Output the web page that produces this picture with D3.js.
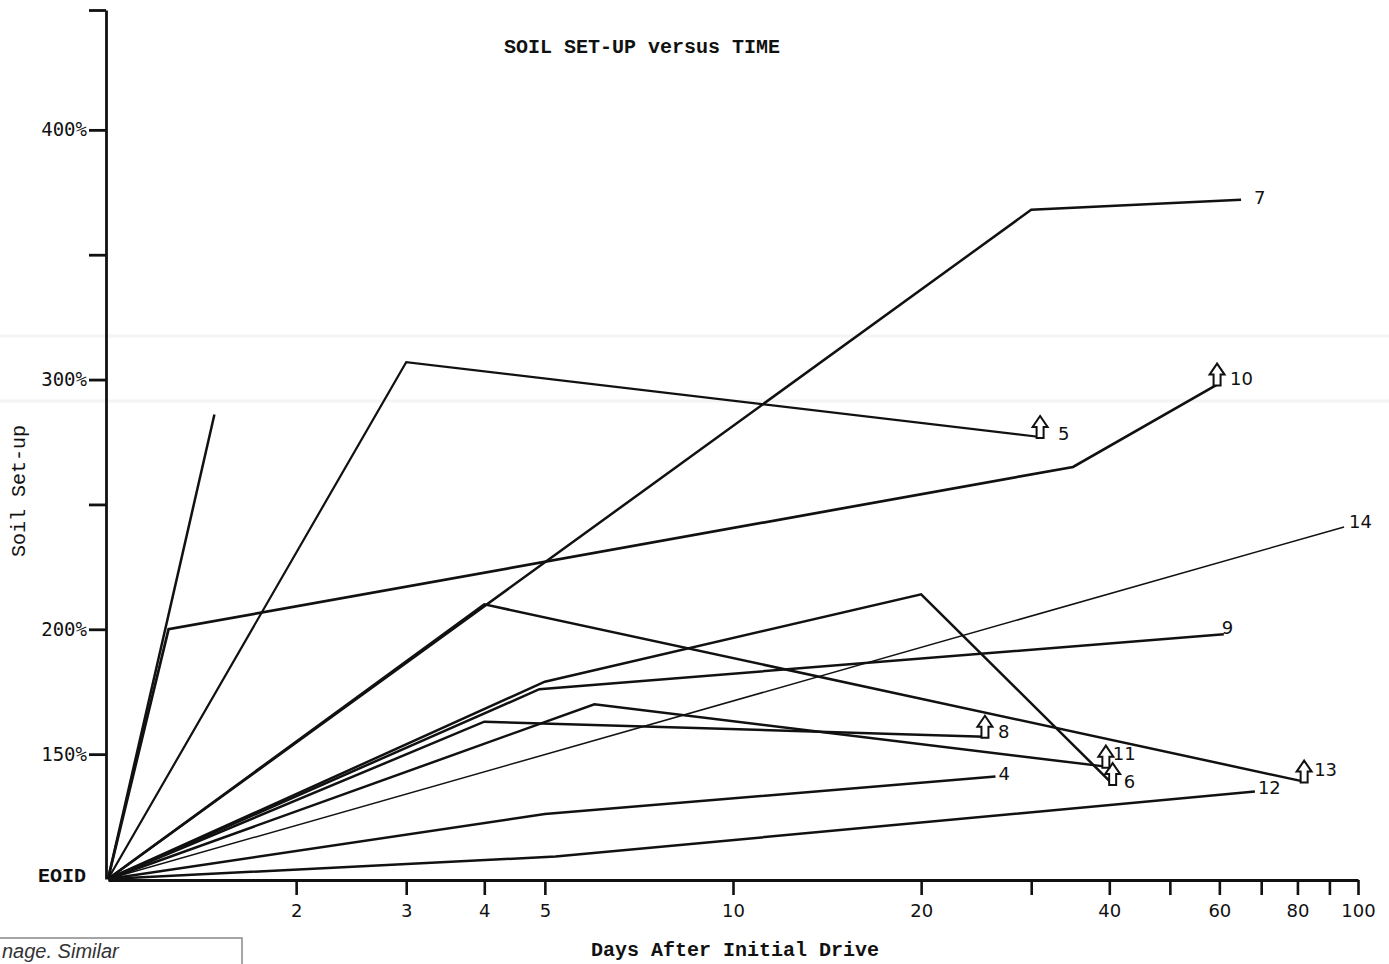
<!DOCTYPE html>
<html>
<head>
<meta charset="utf-8">
<script src="https://cdn.jsdelivr.net/npm/d3@7"></script>
<style>
    body { margin: 0; background: #fff; }
    svg { display: block; }
</style>
</head>
<body>
<svg id="setup-chart"></svg>
<script>
/*--------------------------------------------------------------------------------
----- SOIL SET-UP versus TIME (log time axis, one polyline per pile)
--------------------------------------------------------------------------------*/

// Each pile as [days after initial drive, set-up %] points, EOID = 100%
const pile_a = [[1, 100], [1.48, 286]];
const pile_5 = [[1, 100], [3, 307], [31, 277]];
const pile_10 = [[1, 100], [1.25, 200], [35, 265], [59.5, 298]];
const pile_7 = [[1, 100], [30, 368], [65, 372]];
const pile_13 = [[1, 100], [4, 210], [82, 139]];
const pile_6 = [[1, 100], [5, 179], [20, 214], [40.5, 138]];
const pile_9 = [[1, 100], [4.9, 176], [61, 198]];
const pile_11 = [[1, 100], [6, 170], [39.5, 145]];
const pile_8 = [[1, 100], [4, 163], [25.3, 157]];
const pile_14 = [[1, 100], [95, 241]];
const pile_4 = [[1, 100], [5, 126], [26.3, 141]];
const pile_12 = [[1, 100], [5.2, 109], [68.4, 135]];

// Pile labels and whether the last reading was still rising (arrow)
const pile_labels = ["", "5", "10", "7", "13", "6", "9", "11", "8", "14", "4", "12"];
const pile_rising = [false, true, true, false, true, true, false, true, true, false, false, false];

// Axis ticks
const x_ticks = [2, 3, 4, 5, 10, 20, 30, 40, 50, 60, 70, 80, 90, 100];
const x_tick_labels = [2, 3, 4, 5, 10, 20, 40, 60, 80, 100];
const y_ticks = [150, 200, 250, 300, 350, 400, 448];
const y_tick_labels = [150, 200, 300, 400];

// Configure the dimensions of the chart
const width = 1389, height = 964;

// Scales: log days on X, linear set-up on Y
const x_scale = d3.scaleLog().domain([1, 100]).range([108, 1358]);
const y_scale = d3.scaleLinear().domain([100, 448]).range([879, 10]);

const svg = d3.select("#setup-chart")
    .attr("width", width)
    .attr("height", height);

// Faint scanner bands across the page
svg.selectAll(".scan-band")
    .data([336, 401])
    .enter().append("line")
    .attr("x1", 0).attr("x2", width)
    .attr("y1", function (d) { return d; }).attr("y2", function (d) { return d; })
    .attr("stroke", "#f4f4f4")
    .attr("stroke-width", 3);

// Line geometry and per-label styling
const piles = [pile_a, pile_5, pile_10, pile_7, pile_13, pile_6, pile_9, pile_11, pile_8, pile_14, pile_4, pile_12];
const label_offsets = [[0, 0], [18, -2], [13, -5], [13, -1], [10, -11], [11, -1], [-2, -5], [7, -12], [13, -4], [5, -4], [3, -2], [3, -3]];
const line_widths = [2.5, 2.2, 2.7, 2.5, 2.5, 2.5, 2.5, 2.5, 2.5, 1.5, 2.5, 2.5];

const series = piles.map(function (p, i) {
    return { points: p, label: pile_labels[i], rising: pile_rising[i], offset: label_offsets[i], width: line_widths[i] };
});

const line = d3.line()
    .x(function (d) { return x_scale(d[0]); })
    .y(function (d) { return y_scale(d[1]); });

// Draw every pile curve
svg.append("g")
    .selectAll("path")
    .data(series)
    .enter().append("path")
    .attr("d", function (d) { return line(d.points); })
    .attr("fill", "none")
    .attr("stroke", "#111")
    .attr("stroke-width", function (d) { return d.width; })
    .attr("stroke-linejoin", "miter");

// Hollow arrows on piles still setting up at the last reading
svg.append("g")
    .selectAll("path")
    .data(series.filter(function (d) { return d.rising; }))
    .enter().append("path")
    .attr("transform", function (d) {
        const last = d.points[d.points.length - 1];
        return "translate(" + x_scale(last[0]) + "," + (y_scale(last[1]) + 1) + ")";
    })
    .attr("d", "M-3.5,0 V-11 H-7.5 L0,-22 L7.5,-11 H3.5 V0 Z")
    .attr("fill", "#fff")
    .attr("stroke", "#111")
    .attr("stroke-width", 2)
    .attr("stroke-linejoin", "miter");

// Pile number labels
svg.append("g")
    .selectAll("text")
    .data(series.filter(function (d) { return d.label !== ""; }))
    .enter().append("text")
    .attr("x", function (d) { return x_scale(d.points[d.points.length - 1][0]) + d.offset[0]; })
    .attr("y", function (d) { return y_scale(d.points[d.points.length - 1][1]) + d.offset[1]; })
    .attr("dominant-baseline", "middle")
    .attr("font-family", "DejaVu Sans, sans-serif")
    .attr("font-size", 18)
    .attr("fill", "#111")
    .text(function (d) { return d.label; });

// Y-axis with the top cap tick and % labels
const y_axis = svg.append("g")
    .attr("transform", "translate(106,0)")
    .call(d3.axisLeft(y_scale)
        .tickValues(y_ticks)
        .tickSize(17)
        .tickSizeOuter(0)
        .tickFormat(function (d) { return y_tick_labels.indexOf(d) >= 0 ? d + "%" : ""; }));
y_axis.select(".domain").attr("stroke", "#111").attr("stroke-width", 2.8);
y_axis.selectAll(".tick line").attr("stroke", "#111").attr("stroke-width", 2.8);
y_axis.selectAll(".tick text")
    .attr("x", -19)
    .attr("font-family", "DejaVu Sans Mono, monospace")
    .attr("font-size", 19)
    .attr("fill", "#111");

// EOID label at the origin
svg.append("text")
    .attr("x", 86)
    .attr("y", y_scale(100) - 2)
    .attr("text-anchor", "end")
    .attr("dominant-baseline", "middle")
    .attr("font-family", "Liberation Mono, monospace")
    .attr("font-weight", "bold")
    .attr("font-size", 20)
    .attr("fill", "#111")
    .text("EOID");

// X-axis with log ticks, labelled at the printed values only
const x_axis = svg.append("g")
    .attr("transform", "translate(0,880)")
    .call(d3.axisBottom(x_scale)
        .tickValues(x_ticks)
        .tickSize(15)
        .tickSizeOuter(0)
        .tickFormat(function (d) { return x_tick_labels.indexOf(d) >= 0 ? d : ""; }));
x_axis.select(".domain").attr("stroke", "#111").attr("stroke-width", 2.8);
x_axis.selectAll(".tick line").attr("stroke", "#111").attr("stroke-width", 2.6);
x_axis.selectAll(".tick text")
    .attr("y", 24)
    .attr("font-family", "DejaVu Sans, sans-serif")
    .attr("font-size", 18)
    .attr("fill", "#111");

// Title and axis titles in typewriter face
svg.append("text")
    .attr("x", 642)
    .attr("y", 48)
    .attr("text-anchor", "middle")
    .attr("dominant-baseline", "middle")
    .attr("font-family", "Liberation Mono, monospace")
    .attr("font-weight", "bold")
    .attr("font-size", 20)
    .attr("fill", "#111")
    .text("SOIL SET-UP versus TIME");

svg.append("text")
    .attr("x", 735)
    .attr("y", 951)
    .attr("text-anchor", "middle")
    .attr("dominant-baseline", "middle")
    .attr("font-family", "Liberation Mono, monospace")
    .attr("font-weight", "bold")
    .attr("font-size", 20)
    .attr("fill", "#111")
    .text("Days After Initial Drive");

svg.append("text")
    .attr("transform", "translate(20,491) rotate(-90)")
    .attr("text-anchor", "middle")
    .attr("dominant-baseline", "middle")
    .attr("font-family", "Liberation Mono, monospace")
    .attr("font-size", 20)
    .attr("fill", "#111")
    .text("Soil Set-up");

// Cropped caption box at the bottom-left corner
svg.append("rect")
    .attr("x", -2).attr("y", 938)
    .attr("width", 244).attr("height", 40)
    .attr("fill", "#fff")
    .attr("stroke", "#888")
    .attr("stroke-width", 1.5);
svg.append("text")
    .attr("x", 2)
    .attr("y", 958)
    .attr("font-family", "Liberation Sans, sans-serif")
    .attr("font-style", "italic")
    .attr("font-size", 20)
    .attr("fill", "#333")
    .text("nage. Similar");
</script>
</body>
</html>
